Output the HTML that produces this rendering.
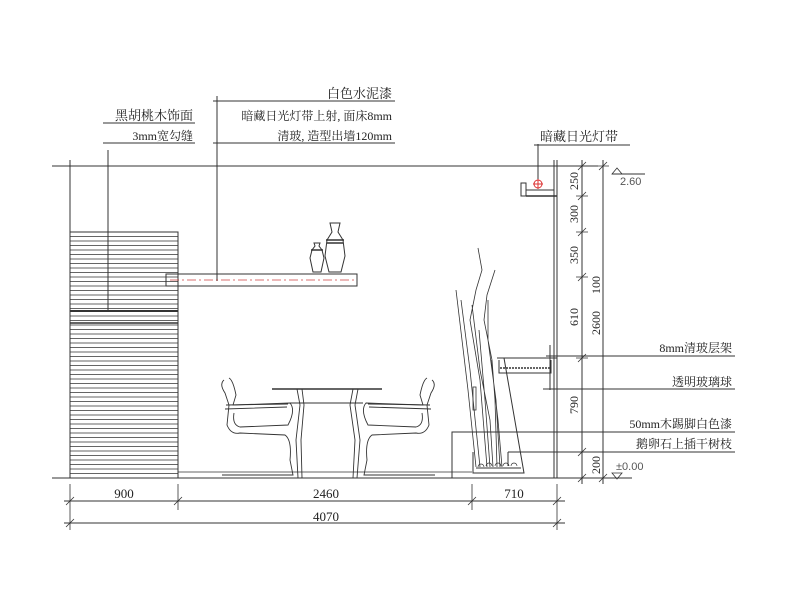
<!DOCTYPE html>
<html><head><meta charset="utf-8"><style>
html,body{margin:0;padding:0;background:#fff;width:800px;height:600px;overflow:hidden}
svg{display:block}
text{font-family:"Liberation Serif","Noto Serif CJK SC","Noto Sans CJK SC",serif;fill:#222;stroke:none}
.d{font-family:"Liberation Sans",sans-serif;fill:#555}
</style></head><body>
<svg width="800" height="600" viewBox="0 0 800 600" stroke="#333" stroke-width="1" fill="none">
<line x1="52" y1="166" x2="598" y2="166"/>
<line x1="52" y1="478" x2="632" y2="478"/>
<line x1="70" y1="160" x2="70" y2="478"/>
<rect x="70" y="232" width="108" height="246"/>
<g stroke-width="0.7">
<path d="M70 236.5H178M70 241H178M70 245.5H178M70 250H178M70 254.5H178M70 259H178M70 263.5H178M70 268H178M70 272.5H178M70 277H178M70 281.5H178M70 286H178M70 290.5H178M70 295H178M70 299.5H178M70 304H178M70 308.5H178M70 316H178M70 320.5H178M70 325H178M70 329.5H178M70 334H178M70 338.5H178M70 343H178M70 347.5H178M70 352H178M70 356.5H178M70 361H178M70 365.5H178M70 370H178M70 374.5H178M70 379H178M70 383.5H178M70 388H178M70 392.5H178M70 397H178M70 401.5H178M70 406H178M70 410.5H178M70 415H178M70 419.5H178M70 424H178M70 428.5H178M70 433H178M70 437.5H178M70 442H178M70 446.5H178M70 451H178M70 455.5H178M70 460H178M70 464.5H178M70 469H178M70 473.5H178"/>
</g>
<line x1="70" y1="311" x2="178" y2="311" stroke-width="2"/>
<line x1="70" y1="323" x2="178" y2="323" stroke-width="1.6"/>
<line x1="108" y1="150" x2="108" y2="311"/>
<line x1="103" y1="123" x2="195" y2="123"/>
<line x1="103" y1="143" x2="195" y2="143"/>
<text x="193" y="120" font-size="13" text-anchor="end">黑胡桃木饰面</text>
<text x="193" y="140" font-size="12" text-anchor="end">3mm宽勾缝</text>
<line x1="217" y1="96" x2="217" y2="281"/>
<line x1="213" y1="101" x2="395" y2="101"/>
<line x1="213" y1="143" x2="395" y2="143"/>
<text x="392" y="98" font-size="13" text-anchor="end">白色水泥漆</text>
<text x="392" y="120" font-size="12" text-anchor="end">暗藏日光灯带上射, 面床8mm</text>
<text x="392" y="140" font-size="12" text-anchor="end">清玻, 造型出墙120mm</text>
<rect x="166" y="274" width="191" height="12"/>
<line x1="170" y1="280" x2="356" y2="280" stroke="#c44" stroke-dasharray="9,3,2,3" stroke-width="0.8"/>
<path d="M313 272 L310 258 L312 250 L315 246 L314 243 L320 243 L319 246 L322 250 L324 258 L321 272 Z"/>
<path d="M329 272 L325 256 L327 240 L332 232 L330 223 L340 223 L338 232 L343 240 L345 256 L341 272 Z"/>
<path d="M311 250H323M326 240H344M327 243H343" stroke-width="1.5"/>
<g stroke-width="0.9">
<line x1="272" y1="389" x2="382" y2="389" stroke-width="1.5"/>
<line x1="290" y1="403" x2="363" y2="403"/>
<path d="M297 389 L300 405 L296 440 L298 478 M302 389 L304 405 L301 440 L302 478"/>
<path d="M353 389 L350 405 L355 440 L353 478 M358 389 L355 405 L360 440 L357 478"/>
<path d="M224 380 Q219 384 225 393 L229 405 L227 425 Q231 435 240 433 L285 435 Q292 440 290 460 L293 475 L222 475 M229 378 Q233 380 236 395 L233 405 L290 403 Q296 410 288 425 L240 427 Q232 425 234 413"/>
<path d="M226 405 L288 404 M225 409 L287 407"/>
<path d="M432 380 Q437 384 431 393 L427 405 L429 425 Q425 435 416 433 L372 435 Q365 440 367 460 L364 475 L435 475 M427 378 Q423 380 420 395 L423 405 L366 403 Q360 410 368 425 L416 427 Q424 425 422 413"/>
<path d="M430 405 L368 404 M431 409 L369 407"/>
</g>
<line x1="178" y1="472" x2="472" y2="472" stroke-width="0.8"/>
<line x1="554" y1="160" x2="554" y2="478"/>
<line x1="557" y1="160" x2="557" y2="478"/>
<rect x="521" y="183" width="5" height="13"/>
<line x1="526" y1="196" x2="557" y2="196" stroke-width="1.5"/>
<line x1="526" y1="190" x2="554" y2="190"/>
<line x1="538" y1="144" x2="538" y2="183"/>
<circle cx="538" cy="184" r="4" stroke="#d33"/>
<path d="M533 184H543M538 179V189" stroke="#d33"/>
<line x1="534" y1="145" x2="630" y2="145"/>
<text x="540" y="141" font-size="13">暗藏日光灯带</text>
<path d="M612 174 L617 168 L622 174 Z" stroke-width="0.8"/>
<line x1="612" y1="174" x2="645" y2="174"/>
<text x="620" y="185" font-size="11" class="d">2.60</text>
<line x1="582" y1="160" x2="582" y2="484"/>
<line x1="603" y1="160" x2="603" y2="484"/>
<g stroke-width="0.8">
<path d="M578 170l8-8M578 200l8-8M578 236l8-8M578 281l8-8M578 362l8-8M578 456l8-8M578 482l8-8M599 170l8-8M599 482l8-8"/>
<path d="M576 166H588M576 196H588M576 232H588M576 277H588M576 358H588M576 452H588M597 166H609"/>
</g>
<g font-size="12" class="d">
<text transform="translate(578,181) rotate(-90)" text-anchor="middle">250</text>
<text transform="translate(578,214) rotate(-90)" text-anchor="middle">300</text>
<text transform="translate(578,255) rotate(-90)" text-anchor="middle">350</text>
<text transform="translate(578,317) rotate(-90)" text-anchor="middle">610</text>
<text transform="translate(578,405) rotate(-90)" text-anchor="middle">790</text>
<text transform="translate(600,465) rotate(-90)" text-anchor="middle">200</text>
<text transform="translate(600,285) rotate(-90)" text-anchor="middle">100</text>
<text transform="translate(600,323) rotate(-90)" text-anchor="middle">2600</text>
</g>
<path d="M497 358H557M499 360V373H551V360"/>
<path d="M500 368H550" stroke-dasharray="2,1" stroke-width="1.5"/>
<line x1="550" y1="345" x2="550" y2="390"/>
<line x1="546" y1="356" x2="735" y2="356"/>
<line x1="543" y1="389" x2="735" y2="389"/>
<text x="732" y="352" font-size="12" text-anchor="end">8mm清玻层架</text>
<text x="732" y="386" font-size="12" text-anchor="end">透明玻璃球</text>
<path d="M473 452V473H524L504 358"/>
<line x1="476" y1="468" x2="521" y2="468"/>
<line x1="508" y1="452" x2="508" y2="466"/>
<path d="M478 467a3 3 0 1 1 6 0M486 466a3 3 0 1 1 6 0M495 466a3 3 0 1 1 6 0M503 466a3 3 0 1 1 6 0M511 466a3 3 0 1 1 6 0" stroke-width="0.7"/>
<g stroke-width="0.8">
<path d="M476 467 L468 390 L456 290 M480 467 L470 370 L461 300 M487 467 L480 380 L470 320 L476 290 L482 270 L478 248 M493 467 L490 420 L480 370 L472 305 M497 467 L495 400 L492 360 L484 320 L487 295 L495 270 M490 467 L485 400 L479 330 M500 467 L496 400 L488 340 L488 300 M502 467 L498 420 L491 360"/>
</g>
<rect x="473" y="387" width="3" height="23" stroke-width="0.8"/>
<path d="M452 478V432H735M508 452H735"/>
<text x="732" y="428" font-size="12" text-anchor="end">50mm木踢脚白色漆</text>
<text x="732" y="448" font-size="12" text-anchor="end">鹅卵石上插干树枝</text>
<path d="M612 473 L617 479 L622 473 Z" stroke-width="0.8"/>
<text x="616" y="470" font-size="11" class="d">±0.00</text>
<line x1="64" y1="501" x2="565" y2="501"/>
<line x1="64" y1="523" x2="565" y2="523"/>
<path d="M70 484V530M178 484V510M472 484V510M557 484V530" stroke-width="0.8"/>
<path d="M66 505l8-8M174 505l8-8M468 505l8-8M553 505l8-8M66 527l8-8M553 527l8-8" stroke-width="0.8"/>
<g font-size="13" class="d" text-anchor="middle">
<text x="124" y="498">900</text>
<text x="326" y="498">2460</text>
<text x="514" y="498">710</text>
<text x="326" y="521">4070</text>
</g>
</svg>
</body></html>
